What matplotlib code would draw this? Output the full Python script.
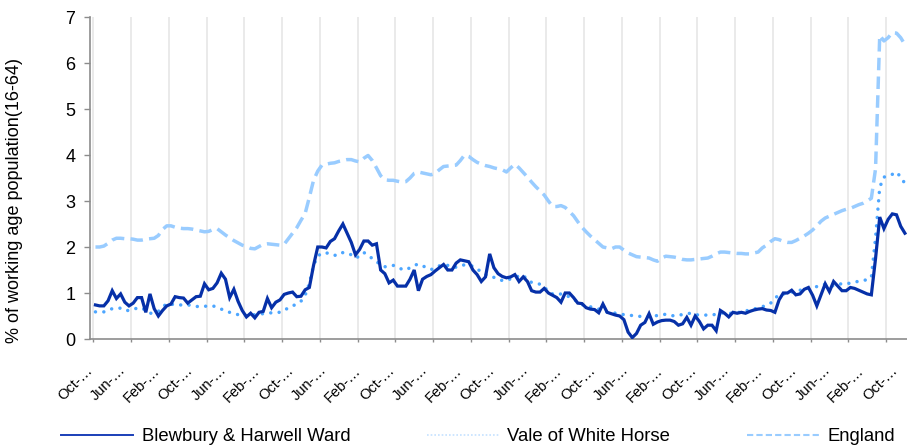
import matplotlib
matplotlib.use("Agg")
import matplotlib.pyplot as plt
from matplotlib.lines import Line2D
import numpy as np

plt.rcParams['font.family'] = ['Liberation Sans', 'DejaVu Sans']

# monthly claimant count, % of working age population (16-64), Oct onwards
blewbury = [
    0.74, 0.72, 0.72, 0.83, 1.05, 0.88, 0.98, 0.80, 0.72, 0.78,
    0.90, 0.90, 0.58, 0.98, 0.66, 0.50, 0.62, 0.72, 0.76, 0.92,
    0.90, 0.89, 0.78, 0.85, 0.92, 0.93, 1.20, 1.07, 1.10, 1.22,
    1.43, 1.30, 0.90, 1.08, 0.82, 0.62, 0.48, 0.56, 0.46, 0.58,
    0.60, 0.88, 0.68, 0.80, 0.85, 0.97, 1.00, 1.02, 0.92, 0.93,
    1.07, 1.12, 1.60, 2.00, 2.00, 1.98, 2.12, 2.18, 2.35, 2.50,
    2.30, 2.10, 1.83, 1.95, 2.13, 2.13, 2.04, 2.07, 1.50, 1.42,
    1.22, 1.28, 1.15, 1.15, 1.15, 1.30, 1.50, 1.05, 1.30, 1.36,
    1.40, 1.48, 1.55, 1.62, 1.50, 1.50, 1.65, 1.72, 1.70, 1.68,
    1.50, 1.40, 1.25, 1.35, 1.85, 1.55, 1.42, 1.36, 1.33, 1.35,
    1.40, 1.25, 1.35, 1.25, 1.05, 1.02, 1.02, 1.10, 1.00, 0.95,
    0.90, 0.80, 1.00, 1.00, 0.90, 0.78, 0.77, 0.68, 0.65, 0.64,
    0.57, 0.76, 0.58, 0.55, 0.52, 0.50, 0.42, 0.15, 0.03, 0.12,
    0.30, 0.36, 0.55, 0.32, 0.37, 0.40, 0.41, 0.41, 0.38, 0.30,
    0.33, 0.47, 0.30, 0.50, 0.38, 0.22, 0.30, 0.30, 0.18, 0.62,
    0.56, 0.48, 0.58, 0.56, 0.58, 0.56, 0.60, 0.63, 0.65, 0.66,
    0.63, 0.62, 0.58, 0.85, 1.00, 1.00, 1.06, 0.96, 0.98, 1.08,
    1.12, 0.95, 0.72, 0.96, 1.20, 1.03, 1.25, 1.15, 1.05, 1.05,
    1.12, 1.10, 1.06, 1.02, 0.98, 0.96, 1.75, 2.65, 2.40, 2.60,
    2.72, 2.70, 2.45, 2.30,
]
vale = [
    0.59, 0.59, 0.59, 0.62, 0.66, 0.67, 0.67, 0.62, 0.62, 0.65,
    0.67, 0.68, 0.62, 0.56, 0.56, 0.60, 0.69, 0.77, 0.76, 0.74,
    0.74, 0.74, 0.74, 0.73, 0.71, 0.70, 0.71, 0.72, 0.72, 0.69,
    0.65, 0.61, 0.58, 0.55, 0.53, 0.52, 0.51, 0.51, 0.53, 0.54,
    0.55, 0.56, 0.57, 0.58, 0.58, 0.62, 0.68, 0.72, 0.76, 0.82,
    0.95, 1.21, 1.60, 1.80, 1.87, 1.87, 1.86, 1.82, 1.82, 1.88,
    1.87, 1.83, 1.76, 1.80, 1.88, 1.82, 1.75, 1.68, 1.62, 1.57,
    1.59, 1.60, 1.56, 1.52, 1.50, 1.55, 1.60, 1.63, 1.59, 1.55,
    1.51, 1.54, 1.59, 1.60, 1.60, 1.56, 1.56, 1.60, 1.61, 1.61,
    1.58, 1.53, 1.45, 1.40, 1.36, 1.34, 1.31, 1.27, 1.27, 1.31,
    1.34, 1.37, 1.39, 1.28, 1.23, 1.22, 1.19, 1.14, 1.02, 0.98,
    0.96, 0.98, 0.97, 0.91, 0.86, 0.81, 0.75, 0.71, 0.70, 0.68,
    0.65, 0.62, 0.59, 0.58, 0.56, 0.54, 0.53, 0.52, 0.51, 0.50,
    0.49, 0.48, 0.49, 0.50, 0.51, 0.52, 0.54, 0.52, 0.50, 0.52,
    0.53, 0.55, 0.56, 0.53, 0.52, 0.52, 0.52, 0.52, 0.54, 0.56,
    0.57, 0.56, 0.56, 0.57, 0.59, 0.61, 0.63, 0.65, 0.68, 0.70,
    0.74, 0.78, 0.88, 0.97, 0.98, 0.99, 1.02, 1.04, 1.06, 1.08,
    1.10, 1.11, 1.14, 1.18, 1.19, 1.18, 1.15, 1.17, 1.21, 1.21,
    1.21, 1.23, 1.26, 1.27, 1.29, 1.34, 2.20, 3.30, 3.52, 3.54,
    3.58, 3.63, 3.52, 3.38,
]
england = [
    2.00, 2.00, 2.02, 2.08, 2.15, 2.19, 2.19, 2.18, 2.18, 2.17,
    2.15, 2.15, 2.17, 2.18, 2.19, 2.25, 2.38, 2.46, 2.46, 2.43,
    2.41, 2.40, 2.40, 2.39, 2.37, 2.35, 2.33, 2.34, 2.38, 2.40,
    2.33, 2.26, 2.20, 2.14, 2.09, 2.04, 2.01, 1.97, 1.96, 2.01,
    2.06, 2.07, 2.06, 2.05, 2.04, 2.06, 2.18, 2.30, 2.42, 2.58,
    2.73, 3.08, 3.45, 3.65, 3.78, 3.80, 3.82, 3.83, 3.86, 3.88,
    3.90, 3.90, 3.87, 3.85, 3.93, 3.99, 3.88, 3.72, 3.55, 3.46,
    3.45, 3.45, 3.43, 3.41, 3.42, 3.50, 3.60, 3.63, 3.61, 3.59,
    3.57, 3.60, 3.68, 3.75, 3.76, 3.77, 3.78, 3.88, 4.00, 3.97,
    3.90, 3.84, 3.80, 3.77, 3.75, 3.72, 3.70, 3.68, 3.63, 3.72,
    3.80, 3.72, 3.62, 3.52, 3.41, 3.31, 3.22, 3.13, 3.00, 2.88,
    2.88, 2.90, 2.86, 2.77, 2.68, 2.55, 2.43, 2.33, 2.24, 2.16,
    2.08, 2.00, 1.98, 1.96, 2.00, 2.00, 1.93, 1.87, 1.83, 1.79,
    1.78, 1.77, 1.76, 1.72, 1.69, 1.76, 1.80, 1.79, 1.78, 1.76,
    1.73, 1.72, 1.72, 1.73, 1.74, 1.75, 1.76, 1.80, 1.85, 1.89,
    1.89, 1.88, 1.87, 1.86, 1.86, 1.85, 1.85, 1.87, 1.89, 1.98,
    2.04, 2.12, 2.18, 2.16, 2.12, 2.10, 2.10, 2.14, 2.19, 2.24,
    2.30, 2.37, 2.46, 2.56, 2.63, 2.67, 2.71, 2.75, 2.79, 2.82,
    2.84, 2.88, 2.92, 2.95, 3.00, 3.06, 3.70, 6.60, 6.48, 6.55,
    6.66, 6.65, 6.55, 6.40,
]
month_names = ['Oct-\u2026', 'Jun-\u2026', 'Feb-\u2026']

n = len(england)
x = np.arange(n)

fig = plt.figure(figsize=(9.07, 4.48), dpi=100)
ax = fig.add_axes([90 / 907, 109 / 448, 817 / 907, 322 / 448])

ax.plot(x, england, color='#99CCFF', lw=2.5, linestyle=(0, (3.6, 1.8)),
        label='England', zorder=2)
ax.plot(x, vale, color='#4DA6FF', lw=2.5, linestyle=(0, (0.01, 2.4)),
        dash_capstyle='round', label='Vale of White Horse', zorder=3)
ax.plot(x, blewbury, color='#0630A8', lw=2.3, solid_joinstyle='miter',
        label='Blewbury & Harwell Ward', zorder=4)

ax.set_xlim(-0.5, n - 0.5)
ax.set_ylim(0, 7)
ax.set_yticks(range(8))

# tick marks every 9 months, labels every 8 months (as in the source sheet)
ax.set_xticks(np.arange(-0.5, n - 0.5, 9))
ax.set_xticklabels([])
lab_pos = np.arange(0, n, 8)
ax.set_xticks(lab_pos - 1.3, minor=True)
ax.set_xticklabels([month_names[i % 3] for i in range(len(lab_pos))], minor=True)
plt.setp(ax.get_xticklabels(minor=True), rotation=45, ha='right', va='center',
         rotation_mode='anchor', fontsize=10.5)
ax.tick_params(axis='x', which='minor', length=0, pad=21)
ax.tick_params(axis='x', which='major', length=2.5, width=1, color='#8C8C8C')
ax.tick_params(axis='y', length=4.5, width=1, color='#8C8C8C', labelsize=13, pad=6)

ax.grid(axis='x', which='major', color='#E6E6E6', lw=1.2)
ax.set_axisbelow(True)
for s in ['top', 'right']:
    ax.spines[s].set_visible(False)
for s in ['left', 'bottom']:
    ax.spines[s].set_color('#8C8C8C')
    ax.spines[s].set_linewidth(1.2)

ax.set_ylabel('% of working age population(16-64)', fontsize=13)
ax.yaxis.set_label_coords(-0.082, 0.43)

handles = [
    Line2D([], [], color='#1A3FB8', lw=1.4),
    Line2D([], [], color='#C5E2FF', lw=1.2, linestyle=(0, (1, 1.2))),
    Line2D([], [], color='#99CCFF', lw=1.5, linestyle=(0, (3, 1.5))),
]
fig.legend(handles, ['Blewbury & Harwell Ward', 'Vale of White Horse', 'England'],
           loc='center', bbox_to_anchor=(0.527, 0.025), ncol=3, frameon=False,
           fontsize=13.3, handlelength=3.9, handletextpad=0.45, columnspacing=4.15,
           borderpad=0, borderaxespad=0)

fig.savefig('out.png', dpi=100)
